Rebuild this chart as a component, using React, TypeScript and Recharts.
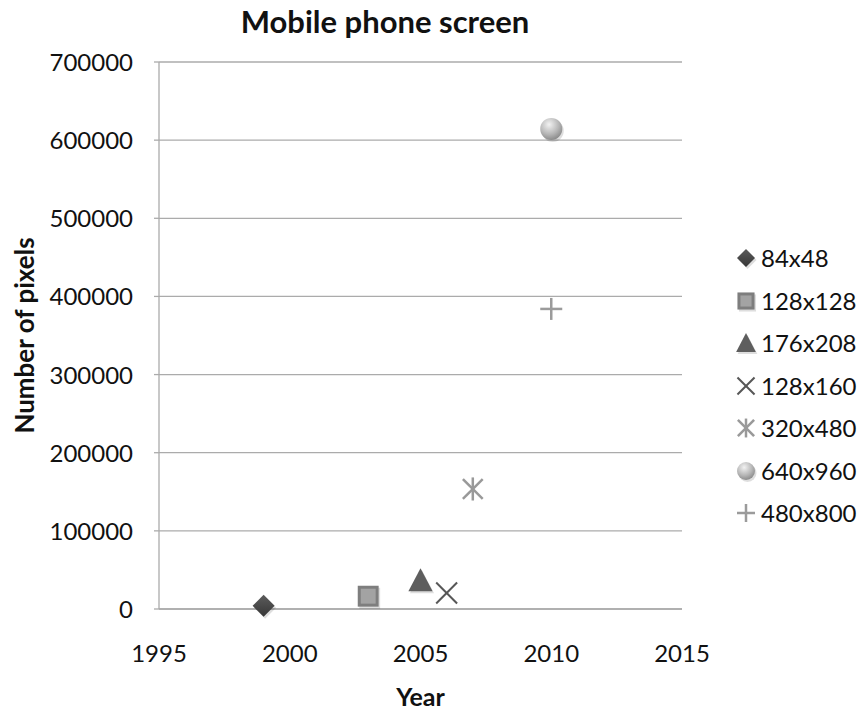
import React from 'react';
import { ScatterChart, Scatter, XAxis, YAxis, CartesianGrid, Legend, Label } from 'recharts';

// Screen resolutions, the year each appeared, and the pixel count (width x height)
const SERIES_NAMES = ['84x48', '128x128', '176x208', '128x160', '320x480', '640x960', '480x800'];
const RELEASE_YEARS = [1999, 2003, 2005, 2006, 2007, 2010, 2010];
const PIXEL_COUNTS = [4032, 16384, 36608, 20480, 153600, 614400, 384000];

const YEAR_TICKS = [1995, 2000, 2005, 2010, 2015];
const PIXEL_TICKS = [0, 100000, 200000, 300000, 400000, 500000, 600000, 700000];

type MarkerKind = 'diamond' | 'square' | 'triangle' | 'cross' | 'star' | 'circle' | 'plus';
const MARKERS: MarkerKind[] = ['diamond', 'square', 'triangle', 'cross', 'star', 'circle', 'plus'];

const FONT = 'Lato, "Open Sans", sans-serif';
const GRID = '#ababab';
const INK = '#111';
const LEGEND_WIDTH = 127;

function Marker({ kind, cx, cy, r, uid }: { kind: MarkerKind; cx: number; cy: number; r: number; uid: string }) {
  const shadow = 'rgba(0,0,0,0.13)';
  switch (kind) {
    case 'diamond': {
      const pts = (dx: number, dy: number) =>
        `${cx + dx},${cy - r + dy} ${cx + r + dx},${cy + dy} ${cx + dx},${cy + r + dy} ${cx - r + dx},${cy + dy}`;
      return (
        <g>
          <defs>
            <linearGradient id={`dg-${uid}`} x1="0" y1="0" x2="0" y2="1">
              <stop offset="0" stopColor="#5c5c5c" />
              <stop offset="1" stopColor="#363636" />
            </linearGradient>
          </defs>
          <polygon points={pts(1.5, 2)} fill={shadow} />
          <polygon points={pts(0, 0)} fill={`url(#dg-${uid})`} />
        </g>
      );
    }
    case 'square': {
      const s = r * 0.95;
      return (
        <g>
          <rect x={cx - s + 1.5} y={cy - s + 2} width={2 * s} height={2 * s} fill={shadow} />
          <rect x={cx - s} y={cy - s} width={2 * s} height={2 * s} fill="#7e7e7e" />
          <rect x={cx - s + 3} y={cy - s + 3} width={2 * s - 6} height={2 * s - 6} fill="#a3a3a3" />
        </g>
      );
    }
    case 'triangle': {
      const w = r * 1.1;
      const pts = (dx: number, dy: number) =>
        `${cx + dx},${cy - w + dy} ${cx + w + dx},${cy + w * 0.9 + dy} ${cx - w + dx},${cy + w * 0.9 + dy}`;
      return (
        <g>
          <polygon points={pts(1.5, 2)} fill={shadow} />
          <polygon points={pts(0, 0)} fill="#5e5e5e" />
        </g>
      );
    }
    case 'cross': {
      const h = r * 0.95;
      return (
        <g stroke="#575757" strokeWidth={2}>
          <line x1={cx - h} y1={cy - h} x2={cx + h} y2={cy + h} />
          <line x1={cx - h} y1={cy + h} x2={cx + h} y2={cy - h} />
        </g>
      );
    }
    case 'star': {
      const h = r * 0.9;
      return (
        <g stroke="#999" strokeWidth={2.5}>
          <line x1={cx - h} y1={cy - h} x2={cx + h} y2={cy + h} />
          <line x1={cx - h} y1={cy + h} x2={cx + h} y2={cy - h} />
          <line x1={cx} y1={cy - r * 1.05} x2={cx} y2={cy + r * 1.05} />
        </g>
      );
    }
    case 'circle':
      return (
        <g>
          <defs>
            <radialGradient id={`cg-${uid}`} cx="0.4" cy="0.3" r="0.75">
              <stop offset="0" stopColor="#f2f2f2" />
              <stop offset="0.6" stopColor="#b5b5b5" />
              <stop offset="1" stopColor="#858585" />
            </radialGradient>
          </defs>
          <circle cx={cx + 1.5} cy={cy + 2} r={r} fill={shadow} />
          <circle cx={cx} cy={cy} r={r} fill={`url(#cg-${uid})`} />
        </g>
      );
    case 'plus':
    default:
      return (
        <g stroke="#9b9b9b" strokeWidth={2.5}>
          <line x1={cx - r} y1={cy} x2={cx + r} y2={cy} />
          <line x1={cx} y1={cy - r} x2={cx} y2={cy + r} />
        </g>
      );
  }
}

const seriesData = SERIES_NAMES.map((name, i) => ({
  name,
  kind: MARKERS[i],
  points: [{ year: RELEASE_YEARS[i], pixels: PIXEL_COUNTS[i] }],
}));

function YearTick(props: any) {
  const { x, y, payload } = props;
  return (
    <text x={x} y={y + 53} textAnchor="middle" fontFamily={FONT} fontSize={24} fill={INK}>
      {payload.value}
    </text>
  );
}

function PixelTick(props: any) {
  const { x, y, payload } = props;
  return (
    <text x={x - 21} y={y + 9} textAnchor="end" fontFamily={FONT} fontSize={24} fill={INK}>
      {payload.value}
    </text>
  );
}

function LegendBox(props: any) {
  // keep the entries in series order
  const payload = [...(props.payload || [])].sort(
    (a: any, b: any) => SERIES_NAMES.indexOf(a.value) - SERIES_NAMES.indexOf(b.value)
  );
  return (
    <div style={{ fontFamily: FONT, fontSize: 24, color: INK }}>
      {payload.map((entry: any, i: number) => {
        const kind = MARKERS[SERIES_NAMES.indexOf(entry.value)] || 'circle';
        const lineLike = kind === 'cross' || kind === 'star' || kind === 'plus';
        return (
          <div key={entry.value} style={{ height: 42.5, display: 'flex', alignItems: 'center' }}>
            <svg width={22} height={22} style={{ marginRight: 4, overflow: 'visible' }}>
              <Marker kind={kind} cx={11} cy={11} r={lineLike ? 9 : 9} uid={`lg${i}`} />
            </svg>
            <span style={{ lineHeight: '24px' }}>{entry.value}</span>
          </div>
        );
      })}
    </div>
  );
}

export default function App() {
  return (
    <div style={{ position: 'absolute', left: 0, top: 0, background: '#fff' }}>
      {/* the legend's width is reserved on the right on top of this margin */}
      <ScatterChart width={862} height={712} margin={{ top: 62, right: 180 - LEGEND_WIDTH, bottom: 0, left: 0 }}>
        <CartesianGrid vertical={false} stroke={GRID} strokeWidth={1.3} />
        <XAxis
          type="number"
          dataKey="year"
          domain={[1995, 2015]}
          ticks={YEAR_TICKS}
          allowDataOverflow
          height={103}
          tickSize={0}
          tickMargin={0}
          tickLine={false}
          axisLine={{ stroke: GRID, strokeWidth: 1.3 }}
          tick={<YearTick />}
        >
          <Label
            content={(p: any) => {
              const vb = p.viewBox || { x: 159, width: 523, y: 609 };
              return (
                <text x={vb.x + vb.width / 2} y={706} textAnchor="middle" fontFamily={FONT} fontWeight={700} fontSize={25} fill={INK}>
                  Year
                </text>
              );
            }}
          />
        </XAxis>
        <YAxis
          type="number"
          dataKey="pixels"
          domain={[0, 700000]}
          ticks={PIXEL_TICKS}
          width={159}
          tickSize={5}
          tickMargin={0}
          tickLine={{ stroke: GRID, strokeWidth: 1.3 }}
          axisLine={{ stroke: GRID, strokeWidth: 1.3 }}
          tick={<PixelTick />}
        >
          <Label
            content={(p: any) => {
              const vb = p.viewBox || { y: 62, height: 547 };
              const cy = vb.y + vb.height / 2;
              return (
                <text
                  x={24}
                  y={cy}
                  transform={`rotate(-90, 24, ${cy})`}
                  textAnchor="middle"
                  dominantBaseline="central"
                  fontFamily={FONT}
                  fontWeight={700}
                  fontSize={26}
                  fill={INK}
                >
                  Number of pixels
                </text>
              );
            }}
          />
        </YAxis>
        <text x={385} y={33} textAnchor="middle" fontFamily={FONT} fontWeight={700} fontSize={31} fill={INK}>
          Mobile phone screen
        </text>
        <Legend
          layout="vertical"
          align="right"
          verticalAlign="middle"
          content={<LegendBox />}
          wrapperStyle={{ left: 735, top: 237, width: LEGEND_WIDTH }}
        />
        {seriesData.map((s, i) => (
          <Scatter
            key={s.name}
            name={s.name}
            data={s.points}
            isAnimationActive={false}
            fill="#777"
            shape={(p: any) => <Marker kind={s.kind} cx={p.cx} cy={p.cy} r={11} uid={`pt${i}`} />}
          />
        ))}
      </ScatterChart>
    </div>
  );
}
